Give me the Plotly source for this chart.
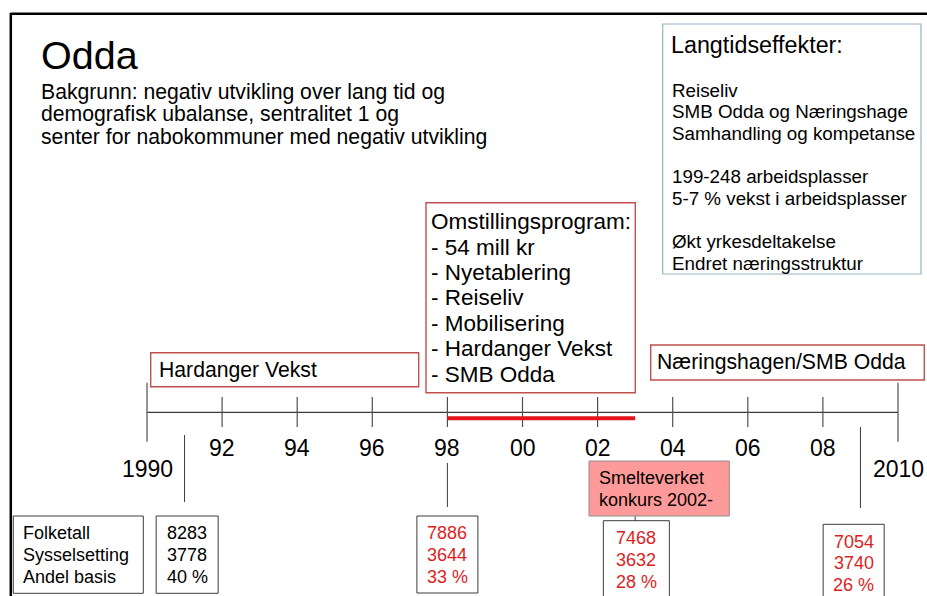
import plotly.graph_objects as go

# ---------------- data ----------------
title = "Odda"
subtitle_lines = [
    "Bakgrunn: negativ utvikling over lang tid og",
    "demografisk ubalanse, sentralitet 1 og",
    "senter for nabokommuner med negativ utvikling",
]
effects_title = "Langtidseffekter:"
effects_lines = [
    "Reiseliv",
    "SMB Odda og Næringshage",
    "Samhandling og kompetanse",
    "",
    "199-248 arbeidsplasser",
    "5-7 % vekst i arbeidsplasser",
    "",
    "Økt yrkesdeltakelse",
    "Endret næringsstruktur",
]
programme_lines = [
    "Omstillingsprogram:",
    "- 54 mill kr",
    "- Nyetablering",
    "- Reiseliv",
    "- Mobilisering",
    "- Hardanger Vekst",
    "- SMB Odda",
]
phase_labels = ["Hardanger Vekst", "Næringshagen/SMB Odda"]
event_lines = ["Smelteverket", "konkurs 2002-"]

tick_years = [1990, 1992, 1994, 1996, 1998, 2000, 2002, 2004, 2006, 2008, 2010]
tick_labels = ["1990", "92", "94", "96", "98", "00", "02", "04", "06", "08", "2010"]
programme_period = [1998, 2003]

stat_names = ["Folketall", "Sysselsetting", "Andel basis"]
stat_years = [1991, 1998, 2003, 2009]
folketall = [8283, 7886, 7468, 7054]
sysselsetting = [3778, 3644, 3632, 3740]
andel_basis = [40, 33, 28, 26]

# ---------------- layout constants ----------------
W, H = 927, 596
PX_PER_YEAR = 37.55
AXIS_X0 = 147.0           # pixel of the first year
FONT = "Liberation Sans, Arial, sans-serif"
RED_BORDER = "#c0504d"
DARK = "#3c3c3c"
RED_TEXT = "#dc1e1e"


def P(px):                # pixel -> paper x
    return px / W


def D(px):                # pixel distance -> years
    return px / PX_PER_YEAR


x_range = [tick_years[0] - D(AXIS_X0), tick_years[0] + D(W - AXIS_X0)]

fig = go.Figure()
shapes = []
ann = []


def text(x, y, s, size, color="#000000", xanchor="left", xref="paper"):
    ann.append(dict(x=x, y=y, xref=xref, yref="y", text=s, showarrow=False,
                    xanchor=xanchor, yanchor="middle",
                    font=dict(family=FONT, size=size, color=color)))


def rect(x0, y0, x1, y1, line, width=1.0, fill="rgba(0,0,0,0)", xref="paper"):
    shapes.append(dict(type="rect", xref=xref, yref="y", x0=x0, x1=x1, y0=y0, y1=y1,
                       line=dict(color=line, width=width), fillcolor=fill, layer="above"))


# slide frame (top and left edges)
shapes.append(dict(type="line", xref="paper", yref="y", x0=P(10.5), x1=1.0, y0=13.8, y1=13.8,
                   line=dict(color="#000000", width=2.5)))
shapes.append(dict(type="line", xref="paper", yref="y", x0=P(10.8), x1=P(10.8), y0=13, y1=H,
                   line=dict(color="#000000", width=2.5)))

# title + subtitle
text(P(38.5), 54.5, title, 39.5)
for i, s in enumerate(subtitle_lines):
    text(P(39), 91.5 + i * 22.5, s, 21.2)

# long-term effects box
rect(P(662.7), 24, P(921), 274, "#94b4c1", 1.2)
text(P(669), 44.7, effects_title, 23.3)
for i, s in enumerate(effects_lines):
    if s:
        text(P(669.5), 90 + i * 21.7, s, 18.8)

# programme box
rect(P(426), 202.7, P(635.3), 392.7, RED_BORDER, 1.4)
for i, s in enumerate(programme_lines):
    text(P(429), 221.7 + i * 25.4, s, 22.5)

# phase boxes
rect(P(150.7), 352.7, P(418.7), 386.7, RED_BORDER, 1.4)
text(P(157), 370, phase_labels[0], 21.2)
rect(P(650.7), 345, P(924.3), 380, RED_BORDER, 1.4)
text(P(655), 361.7, phase_labels[1], 21.2)

# ---------------- timeline ----------------
AXIS_Y = 412.3
fig.add_trace(go.Scatter(x=[tick_years[0], tick_years[-1]], y=[AXIS_Y, AXIS_Y], mode="lines",
                         line=dict(color=DARK, width=1.2), hoverinfo="skip"))
tx, ty = [], []
for i, yr in enumerate(tick_years):
    end = i in (0, len(tick_years) - 1)
    tx += [yr, yr, None]
    ty += ([382.7, 441.7] if end else [397, 427]) + [None]
fig.add_trace(go.Scatter(x=tx, y=ty, mode="lines", line=dict(color="#505050", width=1.2),
                         hoverinfo="skip"))
for i, (yr, lab) in enumerate(zip(tick_years, tick_labels)):
    end = i in (0, len(tick_years) - 1)
    text(yr, 469 if end else 448, lab, 23, xanchor="center", xref="x")

# programme period (red bar)
fig.add_trace(go.Scatter(x=programme_period, y=[418.3, 418.3], mode="lines",
                         line=dict(color="#e3141b", width=4), hoverinfo="skip"))

# connectors from the timeline to the statistic boxes
conn_y = [(435, 502), (463, 507), (505, 521), (427, 508)]
cx, cy = [], []
for yr, (a, b) in zip(stat_years, conn_y):
    cx += [yr, yr, None]
    cy += [a, b, None]
fig.add_trace(go.Scatter(x=cx, y=cy, mode="lines", line=dict(color=DARK, width=1),
                         hoverinfo="skip"))

# event box
rect(P(589), 461, P(729.3), 516, "#8c8c8c", 1, fill="#ff9a9a")
for i, s in enumerate(event_lines):
    text(P(597), 478.3 + i * 21.7, s, 18)

# statistic name box
rect(P(13.3), 516, P(143.3), 593.3, DARK, 1)
for i, s in enumerate(stat_names):
    text(P(20.5), 533.3 + i * 21.7, s, 18)

# statistic value boxes
box_dx = [2.6, 0, 1.2, -6.8]
box_w = [62, 61, 66, 61]
box_top = [516, 516, 520.7, 524.3]
box_bot = [593.3, 593, 605, 605]
for k, yr in enumerate(stat_years):
    c = yr + D(box_dx[k])
    rect(c - D(box_w[k] / 2), box_top[k], c + D(box_w[k] / 2), box_bot[k], DARK, 1, xref="x")
    col = "#000000" if k == 0 else RED_TEXT
    vals = [str(folketall[k]), str(sysselsetting[k]), f"{andel_basis[k]} %"]
    for j, s in enumerate(vals):
        text(c, box_top[k] + 17.3 + j * 21.8, s, 18, color=col, xanchor="center", xref="x")

fig.update_layout(
    width=W, height=H, autosize=False,
    margin=dict(l=0, r=0, t=0, b=0, pad=0),
    paper_bgcolor="#ffffff", plot_bgcolor="#ffffff",
    showlegend=False,
    xaxis=dict(range=x_range, visible=False, fixedrange=True),
    yaxis=dict(range=[H, 0], visible=False, fixedrange=True),
    shapes=shapes, annotations=ann,
)

fig.write_html(
    "out.html",
    config={"displayModeBar": False},
    post_script="document.body.style.margin='0';document.body.style.padding='0';"
                "document.body.style.overflow='hidden';",
)
